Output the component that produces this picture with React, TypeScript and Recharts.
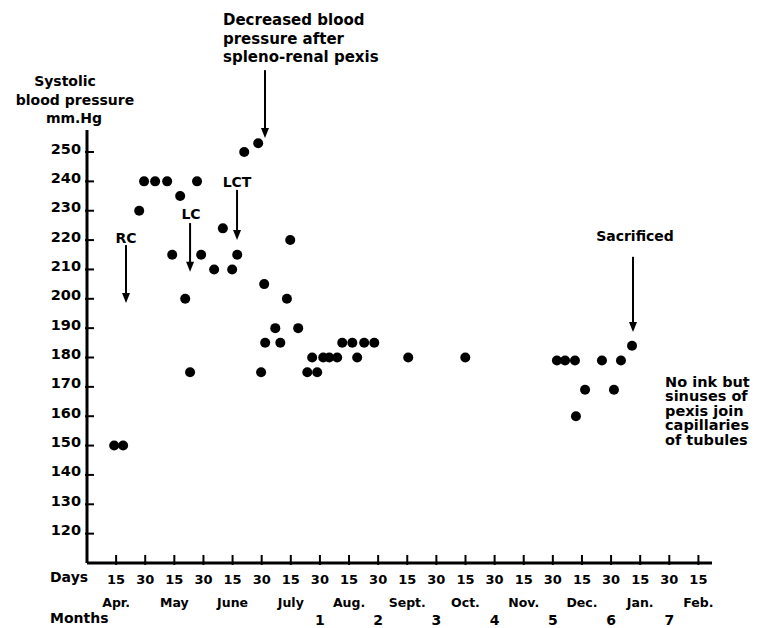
import {
  ReferenceDot,
  ReferenceLine,
  Scatter,
  ScatterChart,
  XAxis,
  YAxis,
} from "recharts";

// days counted from 1 April (15 = Apr 15, 30 = Apr 30, 45 = May 15 ...)
const days = [
  14, 18.6, 26.9, 29.4, 35.1, 41.3, 43.9, 48, 50.6, 53.1, 56.7, 58.8, 65.5, 70,
  74.8, 77.4, 81, 88.2, 89.7, 91.3, 91.8, 97, 99.6, 103, 104.7, 108.8, 113.5,
  116, 118.6, 121.7, 124.8, 128.9, 131.5, 136.7, 139.2, 142.8, 148, 165.5,
  194.9, 242.1, 246.3, 251.4, 251.9, 256.6, 265.3, 271.5, 275.1, 280.8,
];
const pressure = [
  150, 150, 230, 240, 240, 240, 215, 235, 200, 175, 240, 215, 210, 224, 210,
  215, 250, 253, 175, 205, 185, 190, 185, 200, 220, 190, 175, 180, 175, 180,
  180, 180, 185, 185, 180, 185, 185, 180, 180, 179, 179, 179, 160, 169, 179,
  169, 179, 184,
];

const dayTicks = [
  15, 30, 45, 60, 75, 90, 105, 120, 135, 150, 165, 180, 195, 210, 225, 240,
  255, 270, 285, 300, 315,
];
const dayLabels = [
  "15", "30", "15", "30", "15", "30", "15", "30", "15", "30", "15", "30",
  "15", "30", "15", "30", "15", "30", "15", "30", "15",
];
const monthNames = [
  "Apr.", "May", "June", "July", "Aug.", "Sept.", "Oct.", "Nov.", "Dec.",
  "Jan.", "Feb.",
];
const monthNumbers = ["1", "2", "3", "4", "5", "6", "7"];
const pressureTicks = [120, 130, 140, 150, 160, 170, 180, 190, 200, 210, 220, 230, 240, 250];

const yTitle = ["Systolic", "blood pressure", "mm.Hg"];
const noteLines = ["No ink but", "sinuses of", "pexis join", "capillaries", "of tubules"];

// arrows: x (day), from / to (mmHg)
const arrowText = [["RC"], ["LC"], ["LCT"], ["Decreased blood", "pressure after", "spleno-renal pexis"], ["Sacrificed"]];
const arrowX = [20.1, 53.1, 77.3, 91.7, 281.3];
const arrowFrom = [218.3, 225.8, 237.1, 277.9, 214.3];
const arrowTo = [198.6, 209.2, 220, 254.8, 188.7];

const points = days.map((d, i) => ({ day: d, mmHg: pressure[i] }));

const font = "'DejaVu Sans', sans-serif";
const ink = "#000";

// text placement next to each arrow (pixels)
const arrowLayout = [
  { dx: 0, gap: 2, anchor: "middle" },
  { dx: 1, gap: 4, anchor: "middle" },
  { dx: 0, gap: 3, anchor: "middle" },
  { dx: -42, gap: 8, anchor: "start" },
  { dx: 2, gap: 16, anchor: "middle" },
];

function Dot(props: any) {
  return <circle cx={props.cx} cy={props.cy} r={5} fill={ink} />;
}

function DayTick(props: any) {
  const { x, y, payload } = props;
  const i = dayTicks.indexOf(payload.value);
  const month = i % 2 === 0 ? monthNames[i / 2] : null;
  const num = i >= 7 && i % 2 === 1 ? monthNumbers[(i - 7) / 2] : null;
  return (
    <g fontFamily={font} fontWeight="bold" fill={ink}>
      <line x1={x} x2={x} y1={y} y2={y - 10} stroke={ink} strokeWidth={2} />
      <text x={x} y={y + 19} textAnchor="middle" fontSize={13}>
        {dayLabels[i]}
      </text>
      {month && (
        <text x={x} y={y + 42} textAnchor="middle" fontSize={12.5}>
          {month}
        </text>
      )}
      {num && (
        <text x={x} y={y + 60} textAnchor="middle" fontSize={14}>
          {num}
        </text>
      )}
    </g>
  );
}

function PressureTick(props: any) {
  const { x, y, payload } = props;
  return (
    <g>
      <line x1={x} x2={x + 9} y1={y} y2={y} stroke={ink} strokeWidth={2} />
      <text
        x={x - 4}
        y={y + 1.5}
        textAnchor="end"
        fontFamily={font}
        fontWeight="bold"
        fontSize={14.5}
        fill={ink}
      >
        {payload.value}
      </text>
    </g>
  );
}

function YTitle(props: any) {
  const vb = props.viewBox;
  const cx = [65, 75, 74];
  const base = [86, 105, 123];
  return (
    <g fontFamily={font} fontWeight="bold" fontSize={14} fill={ink}>
      {yTitle.map((t, i) => (
        <text key={t} x={vb.x + cx[i]} y={vb.y - 130 + base[i]} textAnchor="middle">
          {t}
        </text>
      ))}
    </g>
  );
}

function XTitle(props: any) {
  const vb = props.viewBox;
  return (
    <g fontFamily={font} fontWeight="bold" fontSize={14} fill={ink}>
      <text x={vb.x - 37} y={vb.y + 19}>Days</text>
      <text x={vb.x - 37} y={vb.y + 60}>Months</text>
    </g>
  );
}

function makeArrow(k: number) {
  return (p: any) => {
    const { x1, y1, y2 } = p;
    const lay = arrowLayout[k];
    const lines = arrowText[k];
    return (
      <g>
        <line x1={x1} x2={x1} y1={y1} y2={y2 - 8} stroke={ink} strokeWidth={2} />
        <path d={`M${x1 - 4},${y2 - 10} L${x1 + 4},${y2 - 10} L${x1},${y2} Z`} fill={ink} />
        <g fontFamily={font} fontWeight="bold" fontSize={k === 3 ? 15 : 14} fill={ink}>
          {lines.map((t, j) => (
            <text
              key={t}
              x={x1 + lay.dx}
              y={y1 - lay.gap - (lines.length - 1 - j) * 18.5}
              textAnchor={lay.anchor as any}
            >
              {t}
            </text>
          ))}
        </g>
      </g>
    );
  };
}

function Note(p: any) {
  return (
    <g fontFamily={font} fontWeight="bold" fontSize={14.5} fill={ink}>
      {noteLines.map((t, j) => (
        <text key={t} x={p.cx} y={p.cy + j * 14.5}>
          {t}
        </text>
      ))}
    </g>
  );
}

export default function App() {
  return (
    <div style={{ position: "absolute", left: 0, top: 0, background: "#fff" }}>
      <ScatterChart
        width={757}
        height={628}
        margin={{ top: 130, right: 45, bottom: 5, left: 0 }}
      >
        <XAxis
          type="number"
          dataKey="day"
          domain={[0, 322]}
          ticks={dayTicks}
          interval={0}
          height={60}
          tickSize={0}
          tickLine={false}
          axisLine={{ stroke: ink, strokeWidth: 3 }}
          tick={<DayTick />}
          label={{ content: (p: any) => <XTitle {...p} /> }}
          allowDataOverflow
        />
        <YAxis
          type="number"
          dataKey="mmHg"
          domain={[110, 257.5]}
          ticks={pressureTicks}
          interval={0}
          width={87}
          tickSize={0}
          tickLine={false}
          axisLine={{ stroke: ink, strokeWidth: 3 }}
          tick={<PressureTick />}
          label={{ content: (p: any) => <YTitle {...p} /> }}
          allowDataOverflow
        />
        <Scatter
          data={points}
          fill={ink}
          shape={<Dot />}
          isAnimationActive={false}
        />
        {arrowX.map((x, k) => (
          <ReferenceLine
            key={k}
            segment={[
              { x, y: arrowFrom[k] },
              { x, y: arrowTo[k] },
            ]}
            ifOverflow="visible"
            shape={makeArrow(k)}
          />
        ))}
        <ReferenceDot
          x={297.8}
          y={170}
          r={0}
          ifOverflow="visible"
          shape={(p: any) => <Note {...p} />}
        />
      </ScatterChart>
    </div>
  );
}
